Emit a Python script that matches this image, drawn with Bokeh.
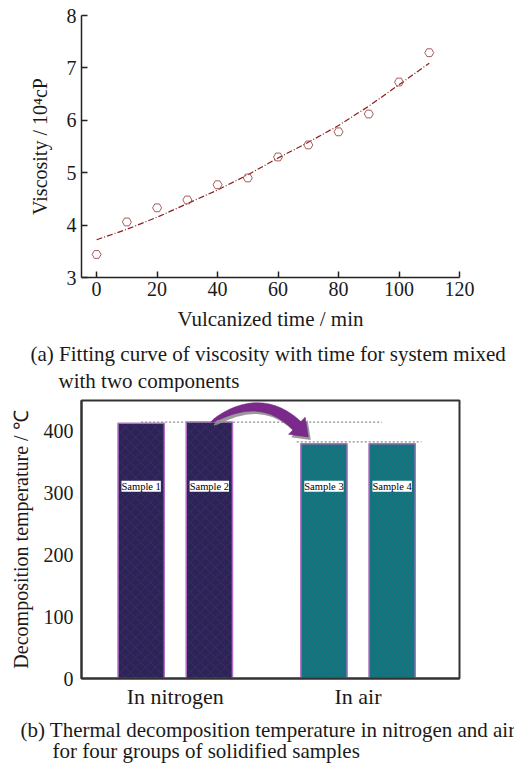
import numpy as np
from bokeh.plotting import figure
from bokeh.layouts import column
from bokeh.models import Range1d, FixedTicker, LabelSet, ColumnDataSource, Title
from bokeh.core.properties import value
from bokeh.embed import file_html
from bokeh.resources import INLINE

# ---------------- data (a) ----------------
time_min = [0, 10, 20, 30, 40, 50, 60, 70, 80, 90, 100, 110]
viscosity = [3.44, 4.06, 4.33, 4.48, 4.77, 4.90, 5.30, 5.53, 5.78, 6.12, 6.73, 7.29]
fit_time = [0, 10, 20, 30, 40, 50, 60, 70, 80, 90, 100, 110]
fit_viscosity = [3.72, 3.92, 4.15, 4.41, 4.67, 4.96, 5.28, 5.58, 5.90, 6.27, 6.68, 7.09]
x_ticks_a = [0, 20, 40, 60, 80, 100, 120]
y_ticks_a = [3, 4, 5, 6, 7, 8]

# ---------------- data (b) ----------------
groups = ["In nitrogen", "In air"]
samples = ["Sample 1", "Sample 2", "Sample 3", "Sample 4"]
sample_group = [0, 0, 1, 1]
decomp_temp = [413, 415, 380, 380]
label_level = 311
y_ticks_b = [0, 100, 200, 300, 400]

caption_a = ["(a) Fitting curve of viscosity with time for system mixed", "with two components"]
caption_b = ["(b) Thermal decomposition temperature in nitrogen and air",
             "for four groups of solidified samples"]

FONT = "Liberation Serif"
TXT = "#1a1a1a"


def caption(p, text, offset, standoff):
    p.add_layout(Title(text=text, align="left", offset=offset, standoff=standoff,
                       text_font=FONT, text_font_size="21px", text_font_style="normal",
                       text_color=TXT), "below")


# ================= figure (a) =================
W = 514
HA = 392
pa = figure(width=W, height=HA, x_range=Range1d(-5, 120), y_range=Range1d(3, 8),
            output_backend="svg", toolbar_location=None,
            min_border_left=81, min_border_right=55, min_border_top=15, min_border_bottom=115)
pa.outline_line_color = None
pa.grid.visible = False

pa.line(fit_time, fit_viscosity, line_color="#8b1c1c", line_dash="6 2 1 2", line_width=1.2)
pa.scatter(time_min, viscosity, marker="hex", size=9, fill_color=None,
           line_color="#a65c5c", line_width=1)

for ax in (pa.xaxis[0], pa.yaxis[0]):
    ax.axis_line_color = "#222222"
    ax.axis_line_width = 1.5
    ax.major_tick_line_color = "#222222"
    ax.major_tick_line_width = 1.5
    ax.major_tick_in = 6
    ax.major_tick_out = 0
    ax.minor_tick_line_color = None
    ax.major_label_text_font = FONT
    ax.major_label_text_font_size = "20px"
    ax.major_label_text_color = TXT
    ax.axis_label_text_font = FONT
    ax.axis_label_text_font_size = "21px"
    ax.axis_label_text_font_style = "normal"
    ax.axis_label_text_color = TXT

pa.yaxis.axis_label_text_font_size = "20px"
pa.xaxis.ticker = FixedTicker(ticks=x_ticks_a)
pa.yaxis.ticker = FixedTicker(ticks=y_ticks_a)
pa.xaxis.axis_label = "Vulcanized time / min"
pa.yaxis.axis_label = "Viscosity / 10\u2074cP"
pa.xaxis.major_label_standoff = 4
pa.xaxis.axis_label_standoff = 8
pa.yaxis.major_label_standoff = 5
pa.yaxis.axis_label_standoff = 13

caption(pa, caption_a[0], -51, 12)
caption(pa, caption_a[1], -23, -9)

# ================= figure (b) =================
HB = 371
xb0, xb1 = 0.0, 5.5
yb0, yb1 = 0.0, 450.0
FW_B = W - 81 - 53
FH_B = HB - 8 - 85
pb = figure(width=W, height=HB, x_range=Range1d(xb0, xb1), y_range=Range1d(yb0, yb1),
            output_backend="svg", toolbar_location=None,
            min_border_left=81, min_border_right=53, min_border_top=8, min_border_bottom=85)
pb.grid.visible = False
pb.outline_line_color = "#333333"
pb.outline_line_width = 2

group_pos = [1.364, 4.024]
offset = 0.496
bar_w = 0.673
xs = [group_pos[g] + (-offset if i % 2 == 0 else offset) for i, g in enumerate(sample_group)]

src_n = ColumnDataSource(dict(x=xs[:2], top=decomp_temp[:2]))
src_a = ColumnDataSource(dict(x=xs[2:], top=decomp_temp[2:]))
pb.vbar(x="x", top="top", width=bar_w, source=src_n, fill_color="#292656",
        line_color="#b06ec4", line_width=1.5,
        hatch_pattern="x", hatch_color="#6a2f8a", hatch_alpha=0.55, hatch_scale=10, hatch_weight=0.6)
pb.vbar(x="x", top="top", width=bar_w, source=src_a, fill_color="#0b7b7b",
        line_color="#b06ec4", line_width=1.5,
        hatch_pattern="/", hatch_color="#5e3a8e", hatch_alpha=0.6, hatch_scale=7, hatch_weight=0.7)

# dotted reference lines
pb.line([xs[0], xs[3] - 0.15], [decomp_temp[1], decomp_temp[1]],
        line_color="#8c8c8c", line_dash="2 2", line_width=1.2)
pb.line([xs[2] - bar_w / 2 - 0.06, xs[3] + bar_w / 2 + 0.09], [decomp_temp[2] + 3, decomp_temp[2] + 3],
        line_color="#8c8c8c", line_dash="2 2", line_width=1.2)

# curved arrow from sample 2 to sample 3 (built in pixel space, converted to data)
sx = FW_B / (xb1 - xb0)
sy = FH_B / (yb1 - yb0)
A = np.array([(xs[1] + bar_w / 2) * sx, decomp_temp[1] * sy])   # bar2 top-right
B = np.array([(xs[2] - bar_w / 2) * sx, decomp_temp[2] * sy])   # bar3 top-left
P0 = A + np.array([-21.0, 0.0])
P2 = B + np.array([-4.0, 18.0])
P1 = np.array([A[0] + 28.0, A[1] + 32.0])
t = np.linspace(0, 1, 40)
curve = ((1 - t) ** 2)[:, None] * P0 + (2 * t * (1 - t))[:, None] * P1 + (t ** 2)[:, None] * P2
tang = (2 * (1 - t))[:, None] * (P1 - P0) + (2 * t)[:, None] * (P2 - P1)
tang = tang / np.linalg.norm(tang, axis=1)[:, None]
norm = np.column_stack([-tang[:, 1], tang[:, 0]])
hw = 0.6 + 5.2 * np.sqrt(t)
upper = curve + norm * hw[:, None]
lower = curve - norm * hw[:, None]
tip = P2 + tang[-1] * 16
wing1 = P2 + norm[-1] * 12
wing2 = P2 - norm[-1] * 12
poly = np.vstack([upper, wing1[None, :], tip[None, :], wing2[None, :], lower[::-1]])


def to_data(pts, dx=0.0, dy=0.0):
    return list((pts[:, 0] + dx) / sx + xb0), list((pts[:, 1] + dy) / sy + yb0)


shx, shy = to_data(poly, 2.5, -3.0)
pb.patch(shx, shy, fill_color="#8f8f8f", line_color=None, fill_alpha=0.9)
axx, axy = to_data(poly)
pb.patch(axx, axy, fill_color="#7b2a8c", line_color="#6a2379", line_width=0.5)

# sample labels
lab_src = ColumnDataSource(dict(x=xs, y=[label_level] * 4, t=samples))
pb.add_layout(LabelSet(x="x", y="y", text="t", source=lab_src, text_align="center",
                       text_baseline="middle", text_font=value(FONT), text_font_size="10.5px",
                       text_color="black", background_fill_color="white"))

for ax in (pb.xaxis[0], pb.yaxis[0]):
    ax.axis_line_color = "#333333"
    ax.axis_line_width = 2
    ax.major_tick_in = 0
    ax.major_tick_out = 0
    ax.minor_tick_line_color = None
    ax.major_label_text_font = FONT
    ax.major_label_text_font_size = "20px"
    ax.major_label_text_color = TXT
    ax.axis_label_text_font = FONT
    ax.axis_label_text_font_size = "20px"
    ax.axis_label_text_font_style = "normal"
    ax.axis_label_text_color = TXT

pb.yaxis.ticker = FixedTicker(ticks=y_ticks_b)
pb.yaxis.axis_label = "Decomposition temperature / \u2103"
pb.yaxis.major_label_standoff = 8
pb.yaxis.axis_label_standoff = 9
pb.xaxis.ticker = FixedTicker(ticks=group_pos)
pb.xaxis.major_label_overrides = {group_pos[i]: groups[i] for i in range(2)}
pb.xaxis.major_label_text_font_size = "22px"
pb.xaxis.major_label_standoff = 5

caption(pb, caption_b[0], -61, 8)
caption(pb, caption_b[1], -29, -18)

layout = column(pa, pb, spacing=0)
open("out.html", "w").write(file_html(layout, INLINE))
